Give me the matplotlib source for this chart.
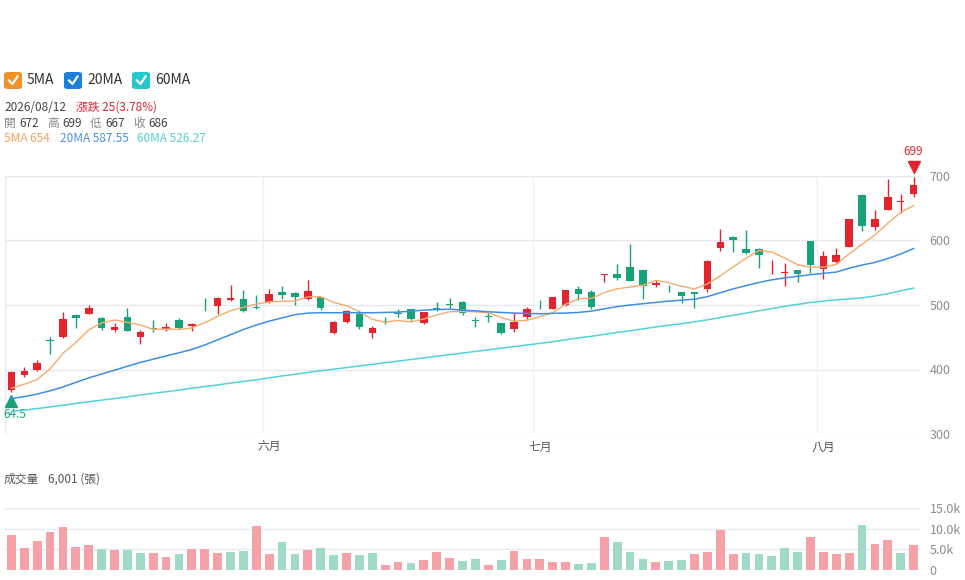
import numpy as np
import matplotlib
matplotlib.use("Agg")
import matplotlib.pyplot as plt
from matplotlib.patches import FancyBboxPatch
from matplotlib.transforms import offset_copy

plt.rcParams['font.family'] = ['Noto Sans CJK TC', 'DejaVu Sans']

# daily candles, 2026/05/04 .. 2026/08/12
opens = [368.4, 390.7, 400.0, 446.0, 450.3, 484.5, 486.5, 479.3, 461.1, 481.3,
         450.8, 463.7, 462.2, 476.2, 467.4, 500.5, 499.0, 507.8, 509.3, 496.4,
         504.1, 520.7, 519.2, 509.3, 511.9, 456.0, 473.6, 485.5, 456.0, 475.1,
         487.0, 493.3, 472.0, 494.8, 501.5, 505.2, 476.7, 483.0, 471.6, 463.4,
         482.0, 505.2, 493.8, 499.5, 524.7, 520.1, 546.9, 548.5, 558.8, 553.6,
         530.4, 531.4, 519.6, 520.6, 524.2, 587.6, 605.7, 586.1, 587.1, 555.2,
         550.0, 554.1, 599.5, 555.2, 566.5, 589.7, 671.1, 621.1, 647.9, 659.8,
         672.0]
highs = [396.9, 403.6, 415.0, 450.8, 489.1, 486.5, 500.5, 481.9, 471.5, 495.3,
         461.7, 477.2, 472.0, 479.8, 472.5, 510.9, 512.4, 531.1, 523.3, 515.5,
         524.9, 530.1, 519.7, 539.4, 513.0, 475.6, 492.2, 492.2, 466.8, 480.8,
         493.8, 493.8, 489.6, 504.1, 510.9, 506.2, 480.8, 487.6, 472.7, 487.1,
         496.9, 508.2, 512.9, 523.7, 528.9, 523.7, 548.5, 562.9, 593.8, 554.6,
         538.7, 531.4, 520.6, 520.6, 569.6, 618.0, 607.2, 616.0, 588.1, 569.6,
         564.4, 554.1, 599.5, 583.5, 588.1, 634.0, 671.6, 647.9, 695.4, 671.6,
         699.0]
lows = [364.5, 388.1, 398.4, 423.8, 449.2, 464.2, 485.5, 460.6, 457.5, 459.1,
        439.9, 458.0, 459.1, 462.7, 459.1, 491.2, 486.0, 506.7, 489.1, 493.3,
        503.5, 508.8, 500.5, 508.3, 492.7, 454.9, 472.5, 462.2, 448.7, 470.5,
        481.9, 475.6, 471.0, 491.2, 495.3, 484.5, 466.3, 474.2, 454.6, 458.8,
        478.4, 493.8, 493.8, 498.5, 507.7, 493.3, 535.1, 538.7, 537.1, 509.3,
        527.3, 520.6, 503.1, 495.4, 519.6, 584.0, 582.5, 578.9, 557.2, 547.4,
        528.9, 535.6, 549.0, 540.7, 565.5, 589.2, 614.4, 616.0, 646.9, 642.8,
        667.0]
closes = [395.9, 397.4, 410.4, 444.0, 477.7, 479.3, 495.9, 464.8, 466.3, 459.6,
          458.5, 462.7, 466.3, 463.7, 471.0, 499.5, 511.4, 510.4, 490.2, 495.3,
          517.1, 515.5, 513.0, 522.3, 495.9, 473.1, 490.2, 465.3, 464.2, 474.1,
          486.0, 478.8, 489.1, 493.8, 500.5, 488.1, 475.1, 482.0, 456.2, 474.2,
          493.3, 504.1, 511.9, 522.7, 516.5, 496.4, 548.5, 541.2, 537.1, 529.9,
          534.5, 530.4, 513.4, 517.0, 568.0, 596.9, 600.0, 580.4, 576.8, 556.2,
          551.0, 547.4, 561.9, 576.3, 577.5, 633.0, 622.2, 634.0, 667.5, 661.0,
          686.0]
volumes = [8500, 5270, 7130, 9240, 10450, 5500, 6080, 5190, 4940, 4940,
           4130, 4130, 3160, 3890, 5020, 5100, 4130, 4460, 4620, 10600,
           3800, 6800, 3970, 4940, 5270, 3730, 4130, 3650, 4130, 1130,
           1940, 1620, 2430, 4380, 3000, 2270, 2760, 1300, 2430, 4620,
           2670, 2590, 1860, 2030, 1460, 1780, 8020, 6800, 4460, 2590,
           1860, 2270, 2510, 3800, 4380, 9560, 3800, 4130, 3890, 3400,
           5350, 4300, 8020, 4380, 3970, 4130, 10860, 6240, 7290, 4130,
           6001]
ma5 = [371.0, 377.2, 384.5, 401.0, 425.1, 441.8, 461.5, 472.3, 476.8, 473.2,
       469.0, 462.4, 462.7, 462.2, 464.4, 472.6, 482.4, 491.2, 496.5, 501.4,
       504.9, 505.7, 506.2, 512.6, 512.8, 504.0, 498.9, 489.4, 477.7, 473.4,
       476.0, 473.7, 478.4, 484.4, 489.6, 490.1, 489.3, 487.9, 480.4, 475.1,
       476.2, 482.0, 487.9, 501.2, 509.7, 510.3, 519.2, 525.1, 527.9, 530.6,
       538.2, 534.6, 529.1, 525.0, 532.7, 545.1, 559.1, 572.5, 584.4, 582.1,
       572.9, 562.4, 558.7, 558.6, 562.8, 579.2, 594.2, 608.6, 626.8, 643.5,
       654.0]
ma20 = [355.0, 358.0, 362.0, 367.0, 373.0, 380.0, 387.0, 393.0, 399.0, 405.0,
        411.0, 416.0, 421.0, 426.0, 431.0, 438.0, 446.0, 454.0, 462.0, 469.0,
        475.0, 480.0, 485.0, 487.5, 488.0, 488.0, 488.0, 488.0, 488.0, 488.5,
        489.0, 490.5, 492.0, 493.0, 493.5, 492.0, 491.0, 489.5, 488.5, 487.5,
        487.0, 486.5, 487.0, 487.5, 488.5, 490.5, 494.0, 497.5, 500.0, 502.0,
        504.0, 506.0, 507.5, 509.0, 513.0, 519.0, 525.0, 530.0, 535.0, 539.0,
        542.0, 544.5, 547.0, 549.0, 551.0, 557.0, 562.0, 566.0, 572.0, 579.0,
        587.55]
ma60 = [335.0, 337.0, 339.5, 342.0, 344.5, 347.5, 350.0, 352.5, 355.0, 357.5,
        360.5, 363.0, 365.5, 368.0, 371.0, 373.5, 376.0, 379.0, 381.5, 384.0,
        387.0, 390.0, 392.5, 395.5, 398.0, 400.5, 403.0, 405.5, 408.0, 410.5,
        413.0, 415.5, 418.0, 420.5, 423.0, 425.5, 428.0, 430.5, 433.0, 435.5,
        438.0, 440.5, 443.0, 446.0, 449.0, 451.5, 454.5, 457.5, 460.0, 463.0,
        466.0, 468.5, 471.0, 474.0, 477.0, 480.5, 484.0, 487.5, 491.0, 494.5,
        498.0, 501.0, 504.0, 506.0, 508.0, 509.5, 511.0, 514.0, 517.5, 522.0,
        526.27]
month_pos = [20, 41, 63]
month_labels = ['六月', '七月', '八月']

RED = '#e3242f'
GREEN = '#17a27a'
RED_V = '#f4a2a7'
GREEN_V = '#a0d9c5'
GRID = '#e6e9f1'

W, H = 965, 580
fig = plt.figure(figsize=(W / 100, H / 100), dpi=100)


def fx(x):
    return x / W


def fy(y):
    return 1 - y / H


x = np.arange(len(closes))
o = np.array(opens)
c = np.array(closes)
up = c >= o
cols = np.where(up, RED, GREEN)

# ---- price panel
ax = fig.add_axes([fx(5), fy(434), fx(920) - fx(5), fy(176) - fy(434)])
ax.set_xlim(-0.5, len(closes) - 0.5)
ax.set_ylim(300, 700)
for s in ax.spines.values():
    s.set_visible(False)
ax.axvline(-0.5, color=GRID, lw=1, zorder=0)
for v in [300, 400, 500, 600, 700]:
    ax.axhline(v, color=GRID, lw=1, zorder=0)
for p in month_pos:
    ax.axvline(p - 0.5, color='#eef0f5', lw=1, zorder=0)

ax.vlines(x, lows, highs, colors=cols, lw=1.0, zorder=2)
body = np.maximum(np.abs(c - o), 1.0)
ax.bar(x, body, bottom=np.minimum(o, c), width=0.58, color=cols, zorder=3)

ax.plot(x, ma5, color='#f7ab6a', lw=1.0, zorder=4)
ax.plot(x, ma20, color='#3f8fe0', lw=1.1, zorder=4)
ax.plot(x, ma60, color='#52d2d6', lw=1.1, zorder=4)

ax.yaxis.tick_right()
ax.set_yticks([300, 400, 500, 600, 700])
ax.tick_params(axis='y', length=0, pad=7, labelsize=9, labelcolor='#8c8c8c')
ax.set_xticks(month_pos)
ax.set_xticklabels(month_labels)
ax.tick_params(axis='x', length=0, pad=5, labelsize=8.5, labelcolor='#555555')

# high / low markers
top = int(np.argmax(highs))
bot = int(np.argmin(lows))
tr = offset_copy(ax.transData, fig=fig, x=0, y=7, units='points')
ax.plot(top, highs[top], marker='v', ms=8, color=RED, transform=tr, clip_on=False)
ax.annotate('%g' % highs[top], (top, highs[top]), xytext=(0, 18), textcoords='offset points',
            ha='center', va='center', color=RED, fontsize=8.5, annotation_clip=False)
tr2 = offset_copy(ax.transData, fig=fig, x=0, y=-6, units='points')
ax.plot(bot, lows[bot], marker='^', ms=8, color=GREEN, transform=tr2, clip_on=False)
ax.annotate('64.5', (bot, lows[bot]), xytext=(-5.8, -16), textcoords='offset points',
            ha='left', va='center', color=GREEN, fontsize=8.5, annotation_clip=False)

# ---- volume panel
axv = fig.add_axes([fx(5), fy(570), fx(920) - fx(5), fy(508) - fy(570)])
axv.set_xlim(-0.5, len(closes) - 0.5)
axv.set_ylim(0, 15000)
for s in axv.spines.values():
    s.set_visible(False)
for v in [0, 5000, 10000, 15000]:
    axv.axhline(v, color=GRID, lw=1, zorder=0)
prev = np.concatenate([[o[0]], c[:-1]])
vcols = np.where(c >= prev, RED_V, GREEN_V)
axv.bar(x, volumes, width=0.68, color=vcols, zorder=2)
axv.yaxis.tick_right()
axv.set_yticks([0, 5000, 10000, 15000])
axv.set_yticklabels(['0', '5.0k', '10.0k', '15.0k'])
axv.tick_params(axis='y', length=0, pad=7, labelsize=9, labelcolor='#8c8c8c')
axv.set_xticks([])

# ---- header
legend = [(4, '#f39127', '5MA'), (64, '#1c7fda', '20MA'), (132, '#22c8cc', '60MA')]
for lx, col, name in legend:
    fig.patches.append(FancyBboxPatch((fx(lx), fy(89)), fx(18), fy(72) - fy(89),
                                      boxstyle='round,pad=0,rounding_size=0.004',
                                      transform=fig.transFigure, fc=col, ec='none'))
    fig.lines.append(plt.Line2D([fx(lx + 5), fx(lx + 8.5), fx(lx + 13.5)],
                                [fy(80.5), fy(84), fy(76.5)], transform=fig.transFigure,
                                color='white', lw=1.6))
    fig.text(fx(lx + 23), fy(80.5), name, fontsize=10, color='#333333', va='center')

chg = closes[-1] - closes[-2]
pct = chg / closes[-2] * 100
fig.text(fx(4), fy(107.5), '2026/08/12', fontsize=8.5, color='#444444', va='center')
fig.text(fx(76), fy(107.5), '漲跌 %d(%.2f%%)' % (round(chg), pct), fontsize=8.5, color=RED, va='center')

row = [(4, '開', opens[-1]), (47, '高', highs[-1]), (90, '低', lows[-1]), (133, '收', closes[-1])]
for lx, lab, val in row:
    fig.text(fx(lx), fy(123.5), lab, fontsize=8.5, color='#888888', va='center')
    fig.text(fx(lx + 15), fy(123.5), '%d' % val, fontsize=8.5, color='#444444', va='center')

fig.text(fx(4), fy(139), '5MA %g' % ma5[-1], fontsize=8.5, color='#f5a264', va='center')
fig.text(fx(60), fy(139), '20MA %.2f' % ma20[-1], fontsize=8.5, color='#4b8fe2', va='center')
fig.text(fx(137), fy(139), '60MA %.2f' % ma60[-1], fontsize=8.5, color='#56cfd3', va='center')

fig.text(fx(4), fy(479), '成交量', fontsize=8.5, color='#555555', va='center')
fig.text(fx(48), fy(479), '{:,} (張)'.format(volumes[-1]), fontsize=8.5, color='#555555', va='center')

fig.savefig('out.png', dpi=100)
